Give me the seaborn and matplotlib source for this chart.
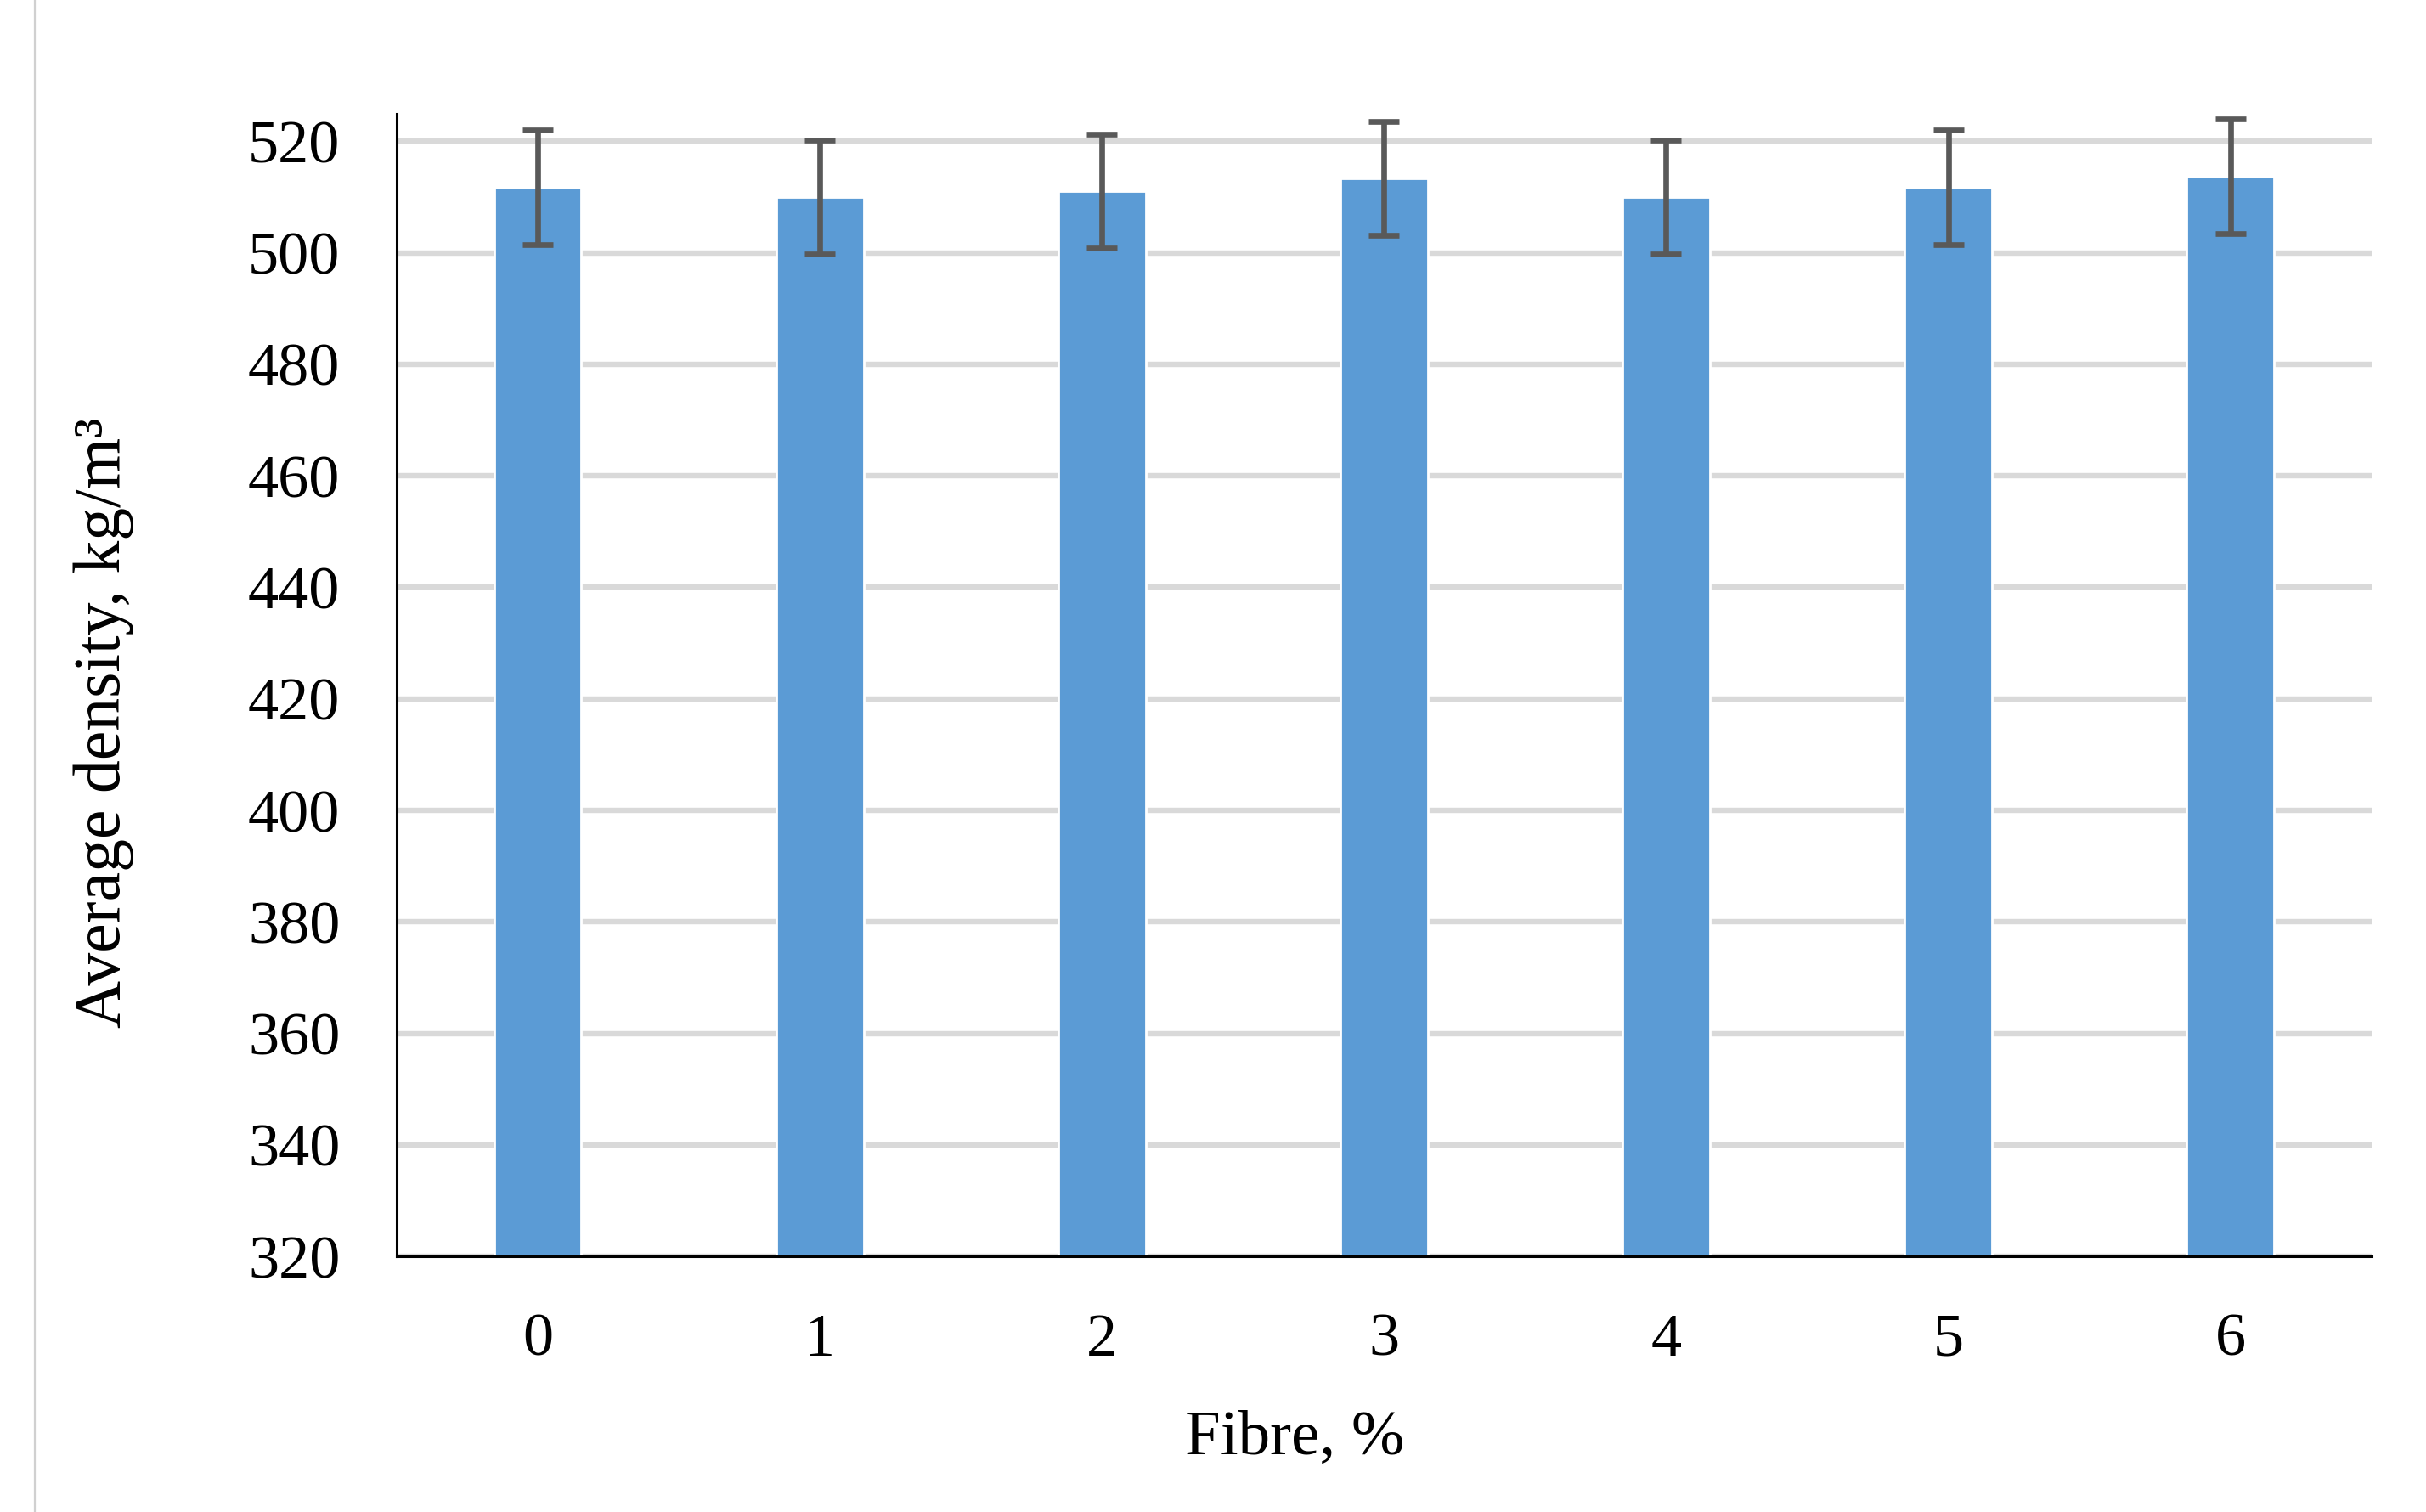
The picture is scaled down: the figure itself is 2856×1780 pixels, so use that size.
import matplotlib
matplotlib.use('Agg')
import matplotlib.pyplot as plt
import seaborn as sns
import pandas as pd
from matplotlib.lines import Line2D

# values
fibre = ['0', '1', '2', '3', '4', '5', '6']
density = [511.7, 510.0, 511.0, 513.3, 510.0, 511.7, 513.7]
density_err = [10.3, 10.2, 10.2, 10.2, 10.2, 10.3, 10.3]

df = pd.DataFrame({'fibre': fibre, 'density': density})

sns.set_theme(style='white')
plt.rcParams['font.family'] = ['Liberation Serif', 'DejaVu Serif']

fig = plt.figure(figsize=(14.28, 8.90), dpi=200)
ax = fig.add_axes([0.1635, 0.169, 0.814, 0.756])

sns.barplot(data=df, x='fibre', y='density', color='#5b9bd5', width=0.31,
            errorbar=None, saturation=1, ax=ax, zorder=2)
ax.errorbar(range(len(fibre)), density, yerr=density_err, fmt='none',
            ecolor='#595959', elinewidth=2.4, capsize=6.5, capthick=2.4, zorder=3)

ax.set_ylim(320, 525)
ax.set_xlim(-0.5, 6.5)
ax.set_yticks(range(320, 521, 20))
ax.yaxis.grid(True, color='#d9d9d9', linewidth=2.3, zorder=0)
ax.set_axisbelow(True)

for side in ['top', 'right']:
    ax.spines[side].set_visible(False)
for side in ['left', 'bottom']:
    ax.spines[side].set_color('black')
    ax.spines[side].set_linewidth(1.1)

ax.tick_params(axis='y', length=0, pad=24, labelsize=26, labelcolor='black')
ax.tick_params(axis='x', length=0, pad=24, labelsize=26, labelcolor='black')

ax.set_xlabel('Fibre, %', fontsize=27, color='black')
ax.set_ylabel('Average density, kg/m³', fontsize=28, color='black')
ax.xaxis.set_label_coords(0.455, -0.135)
ax.yaxis.set_label_coords(-0.133, 0.467)

# thin frame line on the left edge of the picture
fig.add_artist(Line2D([0.0145, 0.0145], [0, 1], color='#d0d0d0', linewidth=0.8,
                      transform=fig.transFigure))

fig.savefig('out.png', dpi=200)
plt.close(fig)
